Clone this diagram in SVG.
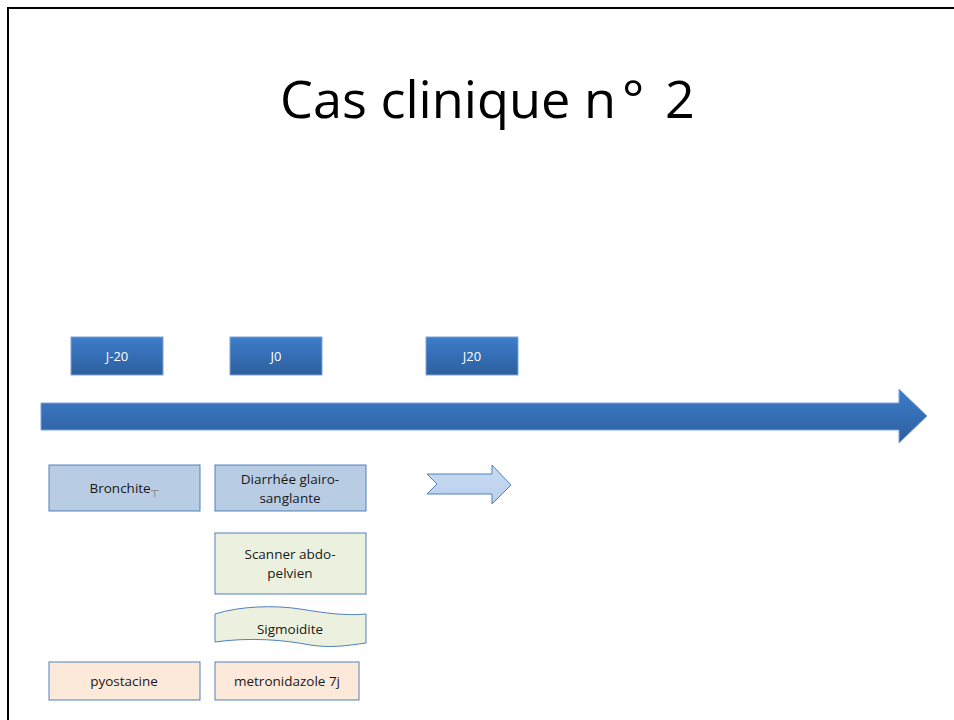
<svg xmlns="http://www.w3.org/2000/svg" width="954" height="720" viewBox="0 0 954 720">
<defs>
<linearGradient id="gBlue" x1="0" y1="0" x2="0" y2="1">
<stop offset="0" stop-color="#3d7dca"/>
<stop offset="1" stop-color="#2d5f9e"/>
</linearGradient>
<linearGradient id="gLight" x1="0" y1="0" x2="0" y2="1">
<stop offset="0" stop-color="#c9dbf2"/>
<stop offset="1" stop-color="#b9cfee"/>
</linearGradient>
</defs>
<style>
.date{fill:url(#gBlue);stroke:#7ea3d6;stroke-width:1}
.dt{font-family:"Open Sans","Liberation Sans",sans-serif;font-size:13px;fill:#ffffff;text-anchor:middle}
.bl{fill:#b8cce4;stroke:#4f81bd;stroke-width:1}
.gr{fill:#ebf1de;stroke:#4f81bd;stroke-width:1}
.or{fill:#fde9d9;stroke:#4f81bd;stroke-width:1}
.t{font-family:"Open Sans","Liberation Sans",sans-serif;font-size:13.5px;fill:#1a1a1a;text-anchor:middle}
.ti{font-family:"Open Sans","Liberation Sans",sans-serif;font-size:52px;fill:#000000}
</style>
<rect x="0" y="0" width="954" height="720" fill="#ffffff"/>
<path d="M8,725 L8,8 L960,8" fill="none" stroke="#000000" stroke-width="2"/>
<text class="ti" y="118"><tspan x="280" textLength="336" lengthAdjust="spacingAndGlyphs">Cas clinique n</tspan><tspan x="622">°</tspan><tspan x="665">2</tspan></text>

<g id="timeline">
<path d="M41,403 L899,403 L899,389 L927,416 L899,443 L899,430 L41,430 Z" fill="url(#gBlue)" stroke="#7ea3d6" stroke-width="1"/>
</g>

<g id="d-j-20"><rect class="date" x="71" y="337" width="92" height="38"/><text class="dt" x="117" y="361">J-20</text></g>
<g id="d-j0"><rect class="date" x="230" y="337" width="92" height="38"/><text class="dt" x="276" y="361">J0</text></g>
<g id="d-j20"><rect class="date" x="426" y="337" width="92" height="38"/><text class="dt" x="472" y="361">J20</text></g>

<g id="n-bronchite"><rect class="bl" x="49" y="465" width="151" height="46"/><text class="t" x="124" y="493">Bronchite<tspan fill="#7f7f7f" font-size="11" dy="1">┬</tspan></text></g>
<g id="n-diarrhee"><rect class="bl" x="215" y="465" width="151" height="46"/><text class="t" x="290" y="484">Diarrhée glairo-</text><text class="t" x="290" y="503">sanglante</text></g>
<g id="n-scanner"><rect class="gr" x="215" y="533" width="151" height="61"/><text class="t" x="290" y="559">Scanner abdo-</text><text class="t" x="290" y="578">pelvien</text></g>
<g id="n-sigmoidite"><path class="gr" d="M215,614 C240,606 275,605 300,609 C325,613 345,616 366,614 L366,643 C345,646 330,648 310,645 C285,640 250,637 215,642 Z"/><text class="t" x="290" y="634">Sigmoidite</text></g>
<g id="n-pyostacine"><rect class="or" x="49" y="662" width="151" height="38"/><text class="t" x="124" y="686">pyostacine</text></g>
<g id="n-metronidazole"><rect class="or" x="215" y="662" width="144" height="38"/><text class="t" x="287" y="686">metronidazole 7j</text></g>

<g id="connectors">
<path d="M427,474 L492,474 L492,465 L511,485 L492,504 L492,494 L427,494 L437,484 Z" fill="url(#gLight)" stroke="#4f81bd" stroke-width="1"/>
</g>
</svg>
